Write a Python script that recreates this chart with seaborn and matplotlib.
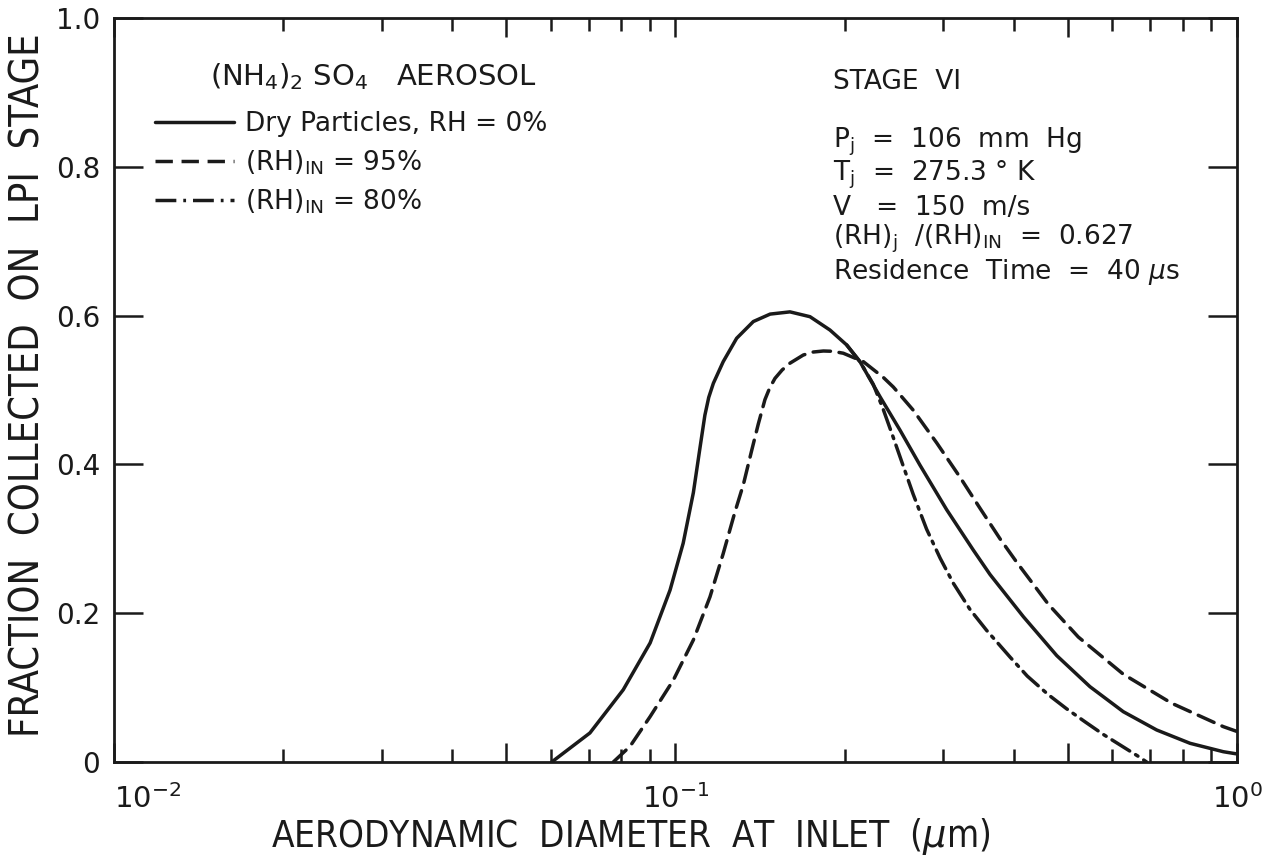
import matplotlib
matplotlib.use("Agg")
import matplotlib.pyplot as plt
import matplotlib.ticker as mticker
from matplotlib.lines import Line2D
from matplotlib.font_manager import FontProperties, findfont
import pandas as pd
import seaborn as sns

# ---------------- data ----------------
dry_x = [0.06021, 0.0704, 0.0807, 0.09012, 0.09779, 0.1032, 0.1076, 0.1106, 0.1128,
         0.1146, 0.1168, 0.1216, 0.1285, 0.1376, 0.1474, 0.1599, 0.1736, 0.1884,
         0.2018, 0.2131, 0.2313, 0.2511, 0.2725, 0.3041, 0.339, 0.3632, 0.4164,
         0.4775, 0.5472, 0.6273, 0.7194, 0.8249, 0.9454, 1.0]
dry_y = [0.0, 0.039, 0.097, 0.160, 0.231, 0.294, 0.362, 0.423, 0.466,
         0.490, 0.509, 0.538, 0.5695, 0.592, 0.602, 0.605, 0.5985, 0.5806,
         0.5605, 0.538, 0.491, 0.446, 0.399, 0.339, 0.285, 0.252, 0.1953,
         0.143, 0.1012, 0.0676, 0.043, 0.0251, 0.0138, 0.0108]

rh95_x = [0.0775, 0.08299, 0.09012, 0.09911, 0.1076, 0.1152, 0.1216, 0.1276, 0.1321,
          0.1366, 0.1404, 0.1443, 0.1472, 0.1504, 0.1549, 0.1599, 0.1689, 0.1758,
          0.1834, 0.1905, 0.199, 0.2161, 0.2344, 0.2443, 0.265, 0.2918, 0.321,
          0.3486, 0.3784, 0.4052, 0.4613, 0.5216, 0.6273, 0.7648, 0.9454, 1.0]
rh95_y = [0.0, 0.021, 0.061, 0.110, 0.164, 0.222, 0.280, 0.336, 0.373,
          0.418, 0.454, 0.487, 0.503, 0.5157, 0.527, 0.536, 0.547, 0.551,
          0.5524, 0.552, 0.5494, 0.538, 0.517, 0.504, 0.473, 0.429, 0.383,
          0.341, 0.300, 0.2685, 0.212, 0.168, 0.118, 0.079, 0.0475, 0.041]

rh80_x = [0.2018, 0.2131, 0.2249, 0.2344, 0.2443, 0.2544, 0.265, 0.28, 0.296,
          0.3126, 0.3346, 0.3581, 0.3733, 0.3943, 0.4231, 0.4612, 0.4972, 0.5362,
          0.578, 0.6233, 0.6673, 0.6902]
rh80_y = [0.5605, 0.538, 0.508, 0.474, 0.436, 0.398, 0.360, 0.313, 0.274,
          0.240, 0.205, 0.177, 0.1615, 0.141, 0.1155, 0.0905, 0.0715, 0.054,
          0.037, 0.0215, 0.0075, 0.0]

series_labels = ["Dry Particles, RH = 0%",
                 r"(RH)$_{\mathregular{IN}}$ = 95%",
                 r"(RH)$_{\mathregular{IN}}$ = 80%"]

x_major = [0.01, 0.05, 0.1, 0.5, 1.0]
x_major_labels = [r"$\mathregular{10^{-2}}$", "", r"$\mathregular{10^{-1}}$", "",
                  r"$\mathregular{10^{0}}$"]
x_minor = [0.02, 0.03, 0.04, 0.06, 0.07, 0.08, 0.09, 0.2, 0.3, 0.4, 0.6, 0.7, 0.8, 0.9]
y_ticks = [0.0, 0.2, 0.4, 0.6, 0.8, 1.0]
y_tick_labels = ["0", "0.2", "0.4", "0.6", "0.8", "1.0"]

aerosol_title = r"(NH$_{\mathregular{4}}$)$_{\mathregular{2}}$ SO$_{\mathregular{4}}$   AEROSOL"
info_lines = ["STAGE  VI",
              r"P$_{\mathregular{j}}$  =  106  mm  Hg",
              r"T$_{\mathregular{j}}$  =  275.3 ° K",
              "V   =  150  m/s",
              r"(RH)$_{\mathregular{j}}$  /(RH)$_{\mathregular{IN}}$  =  0.627",
              r"Residence  Time  =  40 $\mu$s"]

xlabel = r"AERODYNAMIC  DIAMETER  AT  INLET  ($\mu$m)"
ylabel = "FRACTION  COLLECTED  ON  LPI  STAGE"

# ---------------- style ----------------
sns.set_style("ticks")
plt.rcParams["font.family"] = ["DejaVu Sans"]
plt.rcParams["mathtext.fontset"] = "dejavusans"
ink = "#1a1a1a"

cond_path = findfont(FontProperties(family="DejaVu Sans", stretch="condensed"))
has_cond = "Condensed" in cond_path

fig = plt.figure(figsize=(12.75, 8.65), dpi=100)
ax = fig.add_axes([0.0894, 0.1191, 0.8808, 0.8601])

df_dry = pd.DataFrame({"x": dry_x, "y": dry_y})
df_95 = pd.DataFrame({"x": rh95_x, "y": rh95_y})
df_80 = pd.DataFrame({"x": rh80_x, "y": rh80_y})

lw = 2.5
dash95 = (5, 2.5)
dash80 = (6, 2.0, 0.8, 2.0)
for df in (df_dry, df_95, df_80):
    sns.lineplot(data=df, x="x", y="y", ax=ax, color=ink, lw=lw, sort=False,
                 estimator=None)
lines = ax.get_lines()
lines[1].set_dashes(dash95)
lines[2].set_dashes(dash80)
for ln in lines:
    ln.set_solid_capstyle("round")
    ln.set_dash_capstyle("round")
    ln.set_solid_joinstyle("round")

ax.set_xscale("log")
ax.set_xlim(0.01, 1.0)
ax.set_ylim(0, 1.0)

ax.xaxis.set_major_locator(mticker.FixedLocator(x_major))
ax.xaxis.set_major_formatter(mticker.FixedFormatter(x_major_labels))
ax.xaxis.set_minor_locator(mticker.FixedLocator(x_minor))
ax.xaxis.set_minor_formatter(mticker.NullFormatter())
ax.set_yticks(y_ticks)
ax.set_yticklabels(y_tick_labels)

for s in ax.spines.values():
    s.set_linewidth(2.0)
    s.set_color(ink)

ax.tick_params(axis="x", which="major", direction="in", length=14, width=1.8,
               top=True, bottom=True, labelsize=21, pad=16, colors=ink)
ax.tick_params(axis="x", which="minor", direction="in", length=9.5, width=1.8,
               top=True, bottom=True, colors=ink)
ax.tick_params(axis="y", which="major", direction="in", length=21, width=1.8,
               left=True, right=True, labelsize=20, pad=10, colors=ink)
fig.canvas.draw()
ax.get_xticklabels()[0].set_horizontalalignment("left")

lab_kw = dict(color=ink)
if has_cond:
    lab_kw["fontstretch"] = "condensed"
    xsize, ysize = 26.5, 28.5
else:
    xsize, ysize = 24, 26
ax.set_xlabel(xlabel, fontsize=xsize, **lab_kw)
ax.xaxis.set_label_coords(0.46, -0.073)
ax.set_ylabel(ylabel, fontsize=ysize, **lab_kw)
ax.yaxis.set_label_coords(-0.058, 0.507)

# legend
handles = [Line2D([], [], color=ink, lw=lw),
           Line2D([], [], color=ink, lw=lw, dashes=dash95),
           Line2D([], [], color=ink, lw=lw, dashes=dash80)]
leg = ax.legend(handles, series_labels, loc="upper left",
                bbox_to_anchor=(0.0365, 0.875), frameon=False, fontsize=19,
                handlelength=3.0, handletextpad=0.4,
                labelspacing=0.42, borderpad=0, borderaxespad=0)
for t in leg.get_texts():
    t.set_color(ink)

ax.text(0.2315, 0.9207, aerosol_title, transform=ax.transAxes, fontsize=21,
        color=ink, ha="center", va="center")

# info block
info_y = [0.914, 0.833, 0.789, 0.745, 0.703, 0.659]
for txt, yy in zip(info_lines, info_y):
    ax.text(0.640, yy, txt, transform=ax.transAxes, fontsize=19, color=ink,
            ha="left", va="center")

fig.savefig("out.png", dpi=100)
